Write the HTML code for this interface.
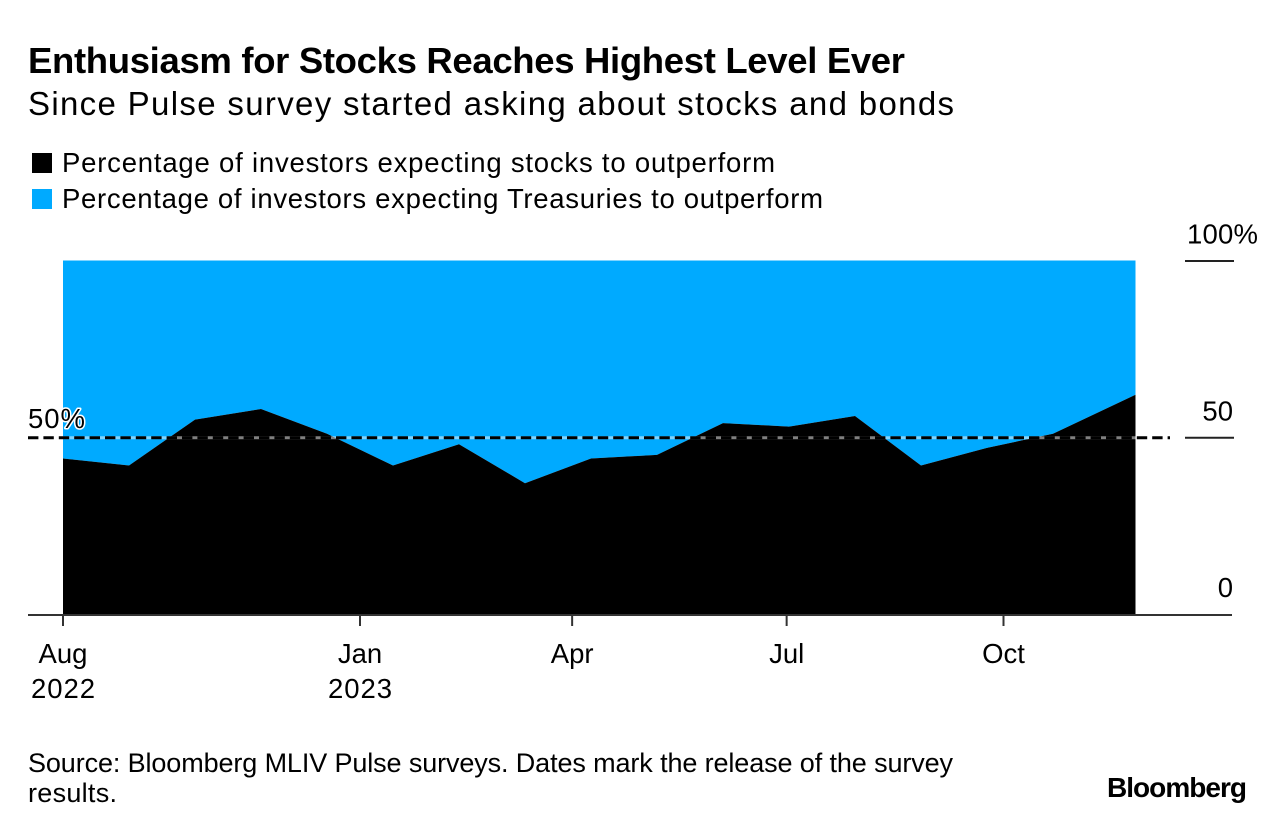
<!DOCTYPE html>
<html lang="en">
<head>
<meta charset="utf-8">
<title>Enthusiasm for Stocks Reaches Highest Level Ever</title>
<style>
html,body{margin:0;padding:0;background:#fff;width:1286px;height:832px;overflow:hidden}
svg{display:block}
text{font-family:"Liberation Sans",sans-serif;fill:#000}
.t26{font-size:27.5px}
.src{font-size:27px}
</style>
</head>
<body>
<svg id="chart" xmlns="http://www.w3.org/2000/svg" width="1286" height="832" viewBox="0 0 1286 832">
  <rect x="0" y="0" width="1286" height="832" fill="#fff"/>
  <text x="28" y="73" font-size="36.5" font-weight="700" textLength="877" lengthAdjust="spacing">Enthusiasm for Stocks Reaches Highest Level Ever</text>
  <text x="28" y="115" font-size="33" textLength="926" lengthAdjust="spacing">Since Pulse survey started asking about stocks and bonds</text>

  <rect x="32" y="153" width="20" height="20" fill="#000"/>
  <text class="t26" x="62" y="172" textLength="713" lengthAdjust="spacing">Percentage of investors expecting stocks to outperform</text>
  <rect x="32" y="189" width="20" height="20" fill="#00aaff"/>
  <text class="t26" x="62" y="208" textLength="761" lengthAdjust="spacing">Percentage of investors expecting Treasuries to outperform</text>

  <g id="areas"></g>
  <g id="refline"></g>
  <text class="t26" x="28" y="428" stroke="#fff" stroke-width="3" paint-order="stroke" stroke-linejoin="round" textLength="57" lengthAdjust="spacing">50%</text>
  <g id="yaxis"></g>
  <g id="xaxis"></g>

  <text class="src" x="28" y="772" textLength="925" lengthAdjust="spacing">Source: Bloomberg MLIV Pulse surveys. Dates mark the release of the survey</text>
  <text class="src" x="28" y="802" textLength="89" lengthAdjust="spacing">results.</text>
  <text x="1107" y="797" font-size="28" font-weight="700" textLength="140" lengthAdjust="spacing">Bloomberg</text>
</svg>
<script>
const surveyDates = ["2022-08-28","2022-09-25","2022-10-23","2022-11-20","2022-12-18","2023-01-15","2023-02-12","2023-03-12","2023-04-09","2023-05-07","2023-06-04","2023-07-02","2023-07-30","2023-08-27","2023-09-24","2023-10-22","2023-11-26"];
const stocksPct = [44,42,55,58,51,42,48,37,44,45,54,53,56,42,47,51,62];
const treasuriesPct = [56,58,45,42,49,58,52,63,56,55,46,47,44,58,53,49,38];
const xTickDates = ["2022-08-28","2023-01-01","2023-04-01","2023-07-01","2023-10-01"];
const xTickMonths = ["Aug","Jan","Apr","Jul","Oct"];
const xTickYears = ["2022","2023","","",""];
const yTickValues = [100,50,0];
const yTickLabels = ["100%","50","0"];
const referenceLevel = [50];

const SVGNS = "http://www.w3.org/2000/svg";
const t0 = Date.parse(surveyDates[0]);
const t1 = Date.parse(surveyDates[surveyDates.length - 1]);
function xScale(d){ return 63 + (Date.parse(d) - t0) / (t1 - t0) * 1072.5; }
function yScale(v){ return 614 - v * 3.535; }
function mk(tag, parent){ const el = document.createElementNS(SVGNS, tag); parent.appendChild(el); return el; }

const areas = document.getElementById("areas");
const upper = surveyDates.map((d,i) => xScale(d).toFixed(1) + "," + yScale(stocksPct[i] + treasuriesPct[i]).toFixed(1));
const mid = surveyDates.map((d,i) => xScale(d).toFixed(1) + "," + yScale(stocksPct[i]).toFixed(1));
const blue = mk("polygon", areas);


blue.setAttribute("points", upper.concat(mid.slice().reverse()).join(" "));
blue.setAttribute("fill", "#00aaff");
const black = mk("polygon", areas);


black.setAttribute("points", mid.concat([xScale(surveyDates[surveyDates.length-1]).toFixed(1) + "," + yScale(0), xScale(surveyDates[0]).toFixed(1) + "," + yScale(0)]).join(" "));
black.setAttribute("fill", "#000");

const ref = document.getElementById("refline");
const refUnder = mk("line", ref);


refUnder.setAttribute("x1", 28);
refUnder.setAttribute("x2", 1170);
refUnder.setAttribute("y1", yScale(referenceLevel[0]) + 0.5);
refUnder.setAttribute("y2", yScale(referenceLevel[0]) + 0.5);
refUnder.setAttribute("stroke", "#fff");
refUnder.setAttribute("stroke-opacity", "0.5");
refUnder.setAttribute("stroke-width", "3");
const refDash = mk("line", ref);


refDash.setAttribute("x1", 28);
refDash.setAttribute("x2", 1170);
refDash.setAttribute("y1", yScale(referenceLevel[0]) + 0.5);
refDash.setAttribute("y2", yScale(referenceLevel[0]) + 0.5);
refDash.setAttribute("stroke", "#000");
refDash.setAttribute("stroke-width", "3");
refDash.setAttribute("stroke-dasharray", "10.4 5");

const yaxis = document.getElementById("yaxis");
yTickValues.forEach((v,i) => {
  if (v !== 0) {
    const ln = mk("line", yaxis);
    
    
    ln.setAttribute("x1", 1185);
    ln.setAttribute("x2", 1234);
    ln.setAttribute("y1", yScale(v) + 0.5);
    ln.setAttribute("y2", yScale(v) + 0.5);
    ln.setAttribute("stroke", "#222");
    ln.setAttribute("stroke-width", "2");
  }
  const tx = mk("text", yaxis);
  
  
  tx.setAttribute("class", "t26");
  tx.setAttribute("y", yScale(v) - 17);
  if (v === 100) {
    tx.setAttribute("x", 1187);
    tx.setAttribute("textLength", 71);
    tx.setAttribute("lengthAdjust", "spacing");
  } else {
    tx.setAttribute("x", 1233);
    tx.setAttribute("text-anchor", "end");
  }
  tx.textContent = yTickLabels[i];
});

const xaxis = document.getElementById("xaxis");
const baseline = mk("line", xaxis);


baseline.setAttribute("x1", 28);
baseline.setAttribute("x2", 1232);
baseline.setAttribute("y1", 615);
baseline.setAttribute("y2", 615);
baseline.setAttribute("stroke", "#333");
baseline.setAttribute("stroke-width", "2");
xTickDates.forEach((d,i) => {
  const x = xScale(d);
  const tick = mk("line", xaxis);
  
  
  tick.setAttribute("x1", x);
  tick.setAttribute("x2", x);
  tick.setAttribute("y1", 615);
  tick.setAttribute("y2", 626);
  tick.setAttribute("stroke", "#333");
  tick.setAttribute("stroke-width", "2");
  const m = mk("text", xaxis);
  
  
  m.setAttribute("class", "t26");
  m.setAttribute("x", x);
  m.setAttribute("y", 663);
  m.setAttribute("text-anchor", "middle");
  m.textContent = xTickMonths[i];
  if (xTickYears[i]) {
    const yr = mk("text", xaxis);
    
    
    yr.setAttribute("class", "t26");
    yr.setAttribute("x", x);
    yr.setAttribute("y", 698);
    yr.setAttribute("text-anchor", "middle");
    yr.setAttribute("textLength", 64);
    yr.setAttribute("lengthAdjust", "spacing");
    yr.textContent = xTickYears[i];
  }
});
</script>
</body>
</html>
